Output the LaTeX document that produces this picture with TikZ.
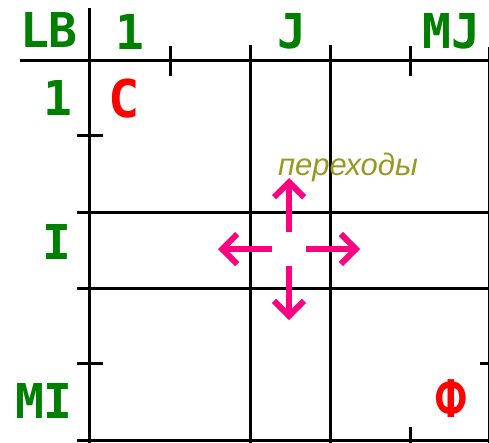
\documentclass[tikz,border=0pt]{standalone}
\usepackage{fontspec}
\setmonofont{DejaVu Sans Mono}
\setsansfont{Liberation Sans}
\usetikzlibrary{arrows.meta,positioning,calc}
\definecolor{axisgreen}{RGB}{0,128,0}
\definecolor{statered}{RGB}{255,0,0}
\definecolor{movepink}{RGB}{255,0,128}
\definecolor{noteolive}{RGB}{153,153,34}
\tikzset{
  rule/.style={line width=3pt,black},
  axlabel/.style={text=axisgreen,inner sep=0pt,anchor=base,
                  font=\fontsize{48}{48}\selectfont\ttfamily\bfseries},
  statelabel/.style={axlabel,text=statered,
                     font=\fontsize{52}{52}\selectfont\ttfamily\bfseries},
  note/.style={text=noteolive,inner sep=0pt,anchor=base,
               font=\fontsize{31}{31}\selectfont\sffamily\itshape},
  move/.style={movepink,line width=6pt,
               -{Straight Barb[length=15pt,width=30pt]}}}

\begin{document}
\begin{tikzpicture}[x=1pt,y=-1pt]
  \useasboundingbox (0,0) rectangle (489,442);
  % table lines
  \draw[rule] (20,60) -- (495,60);
  \draw[rule] (89,8) -- (89,445);
  \draw[rule] (77,440) -- (495,440);
  \draw[rule] (489,47) -- (489,445);
  \foreach \x in {250,330} \draw[rule] (\x,45) -- (\x,445);
  \foreach \y in {212,288} \draw[rule] (77,\y) -- (495,\y);
  % ticks
  \foreach \x in {170,410} \draw[rule] (\x,46) -- (\x,76);
  \draw[rule] (410,427) -- (410,445);
  \foreach \y in {135,363} \draw[rule] (77,\y) -- (103,\y);
  \draw[rule] (480,363) -- (495,363);
  % headers
  \node[axlabel] (lb) at (49,47) {LB};
  \node[axlabel] (c1) at (130,49) {1};
  \node[axlabel] (cj) at (292,48) {J};
  \node[axlabel] (cmj) at (451,48) {MJ};
  \node[axlabel] (r1) at (58,115) {1};
  \node[axlabel] (ri) at (57,259) {I};
  \node[axlabel] (rmi) at (44,418) {MI};
  % states
  \node[statelabel] (start) at (124,117) {C};
  \node[statelabel] (final) at (451,417) {Ф};
  \node[note] (moves) at (348,175) {переходы};
  % moves
  \coordinate (mid) at (289,249);
  \foreach \a in {0,90,180,270}
    \draw[move] ($(mid)+(\a:17)$) -- ($(mid)+(\a:71)$);
\end{tikzpicture}
\end{document}
